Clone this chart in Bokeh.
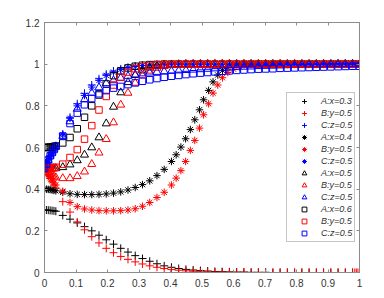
from bokeh.plotting import figure
from bokeh.models import (Range1d, FixedTicker, LinearAxis, Legend, LegendItem,
                          CustomJSTickFormatter, CustomLabelingPolicy)
from bokeh.embed import file_html
from bokeh.resources import INLINE

# ---------------- data ----------------
X_TICKS = [0, 0.1, 0.2, 0.3, 0.4, 0.5, 0.6, 0.7, 0.8, 0.9, 1]
Y_TICKS = [0, 0.2, 0.4, 0.6, 0.8, 1.0, 1.2]

T_DENSE = [0.0, 0.006, 0.012, 0.018, 0.024, 0.030, 0.036]
T_MAIN = [0.058, 0.081, 0.104, 0.127, 0.150, 0.173, 0.196, 0.219, 0.242, 0.265,
          0.288, 0.311, 0.334, 0.357, 0.380, 0.403, 0.426, 0.449, 0.472, 0.495,
          0.518, 0.541, 0.564, 0.587, 0.610, 0.633, 0.656, 0.679, 0.702, 0.725,
          0.748, 0.771, 0.794, 0.817, 0.840, 0.863, 0.886, 0.909, 0.932, 0.955,
          0.978, 1.0]
T_STAR = [0.058, 0.081, 0.104, 0.127, 0.150, 0.173, 0.196, 0.219, 0.242, 0.265,
          0.288, 0.311, 0.334, 0.357, 0.380, 0.403, 0.418, 0.433, 0.448, 0.463,
          0.477, 0.492, 0.505, 0.521, 0.535, 0.550, 0.565, 0.582, 0.600, 0.620,
          0.643, 0.666, 0.689, 0.712, 0.735, 0.758, 0.781, 0.804, 0.827, 0.850,
          0.873, 0.896, 0.919, 0.942, 0.965, 0.988, 1.0]
T_END = [0.985, 0.990, 0.995]

A_PLUS = [0.300, 0.300, 0.299, 0.298, 0.297, 0.296, 0.294,
          0.274, 0.256, 0.238, 0.220, 0.200, 0.179, 0.157, 0.136, 0.116, 0.098,
          0.081, 0.067, 0.054, 0.042, 0.032, 0.025, 0.019, 0.015, 0.012, 0.009,
          0.007, 0.005, 0.004, 0.003, 0.002, 0.002, 0.001, 0.001, 0.001, 0.000,
          0.000, 0.000, 0.000, 0.000, 0.000, 0.000, 0.000, 0.000, 0.000, 0.000,
          0.000, 0.000]
B_PLUS = [0.500, 0.483, 0.467, 0.451, 0.435, 0.420, 0.405,
          0.340, 0.290, 0.243, 0.205, 0.172, 0.142, 0.116, 0.095, 0.077, 0.063,
          0.051, 0.041, 0.032, 0.025, 0.019, 0.014, 0.011, 0.008, 0.006, 0.004,
          0.003, 0.002, 0.002, 0.001, 0.001, 0.001, 0.000, 0.000, 0.000, 0.000,
          0.000, 0.000, 0.000, 0.000, 0.000, 0.000, 0.000, 0.000, 0.000, 0.000,
          0.000, 0.000,
          0.000, 0.000, 0.000]
C_PLUS = [0.500, 0.520, 0.540, 0.560, 0.575, 0.590, 0.605,
          0.665, 0.745, 0.810, 0.860, 0.900, 0.930, 0.952, 0.967, 0.977, 0.985,
          0.990, 0.994, 0.996, 0.998, 1.000, 1.000, 1.000, 1.000, 1.000, 1.000,
          1.000, 1.000, 1.000, 1.000, 1.000, 1.000, 1.000, 1.000, 1.000, 1.000,
          1.000, 1.000, 1.000, 1.000, 1.000, 1.000, 1.000, 1.000, 1.000, 1.000,
          1.000, 1.000]

A_STAR = [0.400, 0.400, 0.399, 0.398, 0.396, 0.394, 0.392,
          0.385, 0.378, 0.375, 0.374, 0.374, 0.375, 0.377, 0.381, 0.387, 0.396,
          0.408, 0.422, 0.440, 0.465, 0.495, 0.533, 0.565, 0.602, 0.642, 0.686,
          0.733, 0.781, 0.829, 0.874, 0.915, 0.948, 0.970, 0.984, 0.992, 0.996,
          0.998, 0.999, 1.000, 1.000, 1.000, 1.000, 1.000, 1.000, 1.000, 1.000,
          1.000, 1.000, 1.000, 1.000, 1.000, 1.000, 1.000]
B_STAR = [0.500, 0.485, 0.470, 0.455, 0.440, 0.430, 0.420,
          0.390, 0.336, 0.316, 0.305, 0.300, 0.297, 0.296, 0.296, 0.297, 0.300,
          0.306, 0.318, 0.336, 0.360, 0.385, 0.420, 0.453, 0.489, 0.533, 0.586,
          0.634, 0.693, 0.757, 0.810, 0.861, 0.900, 0.935, 0.960, 0.976, 0.987,
          0.993, 0.997, 0.999, 1.000, 1.000, 1.000, 1.000, 1.000, 1.000, 1.000,
          1.000, 1.000, 1.000, 1.000, 1.000, 1.000, 1.000]
C_STAR = [0.500, 0.520, 0.540, 0.560, 0.575, 0.590, 0.605,
          0.660, 0.740, 0.800, 0.850, 0.890, 0.922, 0.946, 0.962, 0.974, 0.983,
          0.989, 0.993, 0.996, 0.998, 0.999, 1.000, 1.000, 1.000, 1.000, 1.000,
          1.000, 1.000, 1.000, 1.000, 1.000, 1.000, 1.000, 1.000, 1.000, 1.000,
          1.000, 1.000, 1.000, 1.000, 1.000, 1.000, 1.000, 1.000, 1.000, 1.000,
          1.000, 1.000]

A_TRI = [0.500, 0.500, 0.500, 0.500, 0.500, 0.500, 0.500,
         0.505, 0.518, 0.538, 0.565, 0.600, 0.648, 0.715, 0.795, 0.864, 0.913,
         0.947, 0.969, 0.983, 0.991, 0.995, 0.998, 0.999, 1.000, 1.000, 1.000,
         1.000, 1.000, 1.000, 1.000, 1.000, 1.000, 1.000, 1.000, 1.000, 1.000,
         1.000, 1.000, 1.000, 1.000, 1.000, 1.000, 1.000, 1.000, 1.000, 1.000,
         1.000, 1.000]
B_TRI = [0.500, 0.490, 0.480, 0.472, 0.465, 0.460, 0.456,
         0.452, 0.452, 0.462, 0.484, 0.520, 0.575, 0.640, 0.720, 0.805, 0.862,
         0.910, 0.945, 0.968, 0.982, 0.990, 0.995, 0.998, 0.999, 1.000, 1.000,
         1.000, 1.000, 1.000, 1.000, 1.000, 1.000, 1.000, 1.000, 1.000, 1.000,
         1.000, 1.000, 1.000, 1.000, 1.000, 1.000, 1.000, 1.000, 1.000, 1.000,
         1.000, 1.000]
C_TRI = [0.500, 0.520, 0.540, 0.560, 0.575, 0.590, 0.605,
         0.655, 0.725, 0.785, 0.830, 0.862, 0.888, 0.908, 0.922, 0.934, 0.943,
         0.950, 0.955, 0.959, 0.962, 0.965, 0.967, 0.969, 0.971, 0.973, 0.975,
         0.977, 0.979, 0.981, 0.983, 0.985, 0.987, 0.988, 0.990, 0.991, 0.992,
         0.993, 0.994, 0.995, 0.996, 0.997, 0.997, 0.998, 0.998, 0.999, 0.999,
         1.000, 1.000]

A_SQ = [0.600, 0.600, 0.601, 0.602, 0.603, 0.605, 0.607,
        0.622, 0.648, 0.690, 0.745, 0.800, 0.852, 0.905, 0.945, 0.968, 0.982,
        0.990, 0.995, 0.998, 0.999, 1.000, 1.000, 1.000, 1.000, 1.000, 1.000,
        1.000, 1.000, 1.000, 1.000, 1.000, 1.000, 1.000, 1.000, 1.000, 1.000,
        1.000, 1.000, 1.000, 1.000, 1.000, 1.000, 1.000, 1.000, 1.000, 1.000,
        1.000, 1.000]
B_SQ = [0.500, 0.500, 0.500, 0.501, 0.502, 0.503, 0.505,
        0.520, 0.552, 0.590, 0.640, 0.705, 0.780, 0.845, 0.900, 0.937, 0.962,
        0.978, 0.988, 0.994, 0.997, 0.999, 1.000, 1.000, 1.000, 1.000, 1.000,
        1.000, 1.000, 1.000, 1.000, 1.000, 1.000, 1.000, 1.000, 1.000, 1.000,
        1.000, 1.000, 1.000, 1.000, 1.000, 1.000, 1.000, 1.000, 1.000, 1.000,
        1.000, 1.000]
C_SQ = [0.500, 0.520, 0.540, 0.560, 0.575, 0.590, 0.605,
        0.655, 0.715, 0.765, 0.805, 0.835, 0.858, 0.873, 0.885, 0.893, 0.902,
        0.910, 0.918, 0.925, 0.931, 0.937, 0.942, 0.946, 0.950, 0.954, 0.957,
        0.960, 0.963, 0.966, 0.968, 0.970, 0.972, 0.974, 0.976, 0.977, 0.978,
        0.980, 0.981, 0.982, 0.983, 0.984, 0.985, 0.986, 0.987, 0.988, 0.989,
        0.990, 0.990]

LABELS = ["A:x=0.3", "B:y=0.5", "C:z=0.5",
          "A:x=0.4", "B:y=0.5", "C:z=0.5",
          "A:x=0.5", "B:y=0.5", "C:z=0.5",
          "A:x=0.6", "B:y=0.5", "C:z=0.5"]

# ---------------- figure ----------------
FONT = "Liberation Sans"
GRAY = "#8c8c8c"
TXT = "#333333"

p = figure(width=376, height=290, x_range=Range1d(0, 1), y_range=Range1d(0, 1.2),
           output_backend="svg", toolbar_location=None,
           min_border_left=44, min_border_right=17, min_border_top=22,
           min_border_bottom=18)
p.background_fill_color = "white"
p.border_fill_color = "white"
p.outline_line_color = GRAY
p.grid.visible = False

fmt = CustomJSTickFormatter(code="return String(Math.round(tick*10)/10);")
no_labels = CustomLabelingPolicy(
    code="for (const i of indices) { indices.unset(i) }\nreturn indices")


def style_axis(ax, ticks, show_labels=True, standoff=5):
    ax.ticker = FixedTicker(ticks=ticks)
    ax.formatter = fmt
    ax.axis_line_color = GRAY
    ax.major_tick_line_color = GRAY
    ax.major_tick_in = 3
    ax.major_tick_out = 0
    ax.minor_tick_line_color = None
    ax.major_label_text_font = FONT
    ax.major_label_text_color = TXT
    ax.major_label_text_font_size = "10px"
    if show_labels:
        ax.major_label_standoff = standoff
    else:
        ax.major_label_policy = no_labels
        ax.major_label_standoff = 0


style_axis(p.xaxis[0], X_TICKS, True, 6)
style_axis(p.yaxis[0], Y_TICKS, True, 5)
top = LinearAxis()
style_axis(top, X_TICKS, False)
right = LinearAxis()
style_axis(right, Y_TICKS, False)
p.add_layout(top, "above")
p.add_layout(right, "right")

BLACK, RED, BLUE = "#000000", "#ff0000", "#0000ff"
T_STD = T_DENSE + T_MAIN
series = [
    (T_STD, A_PLUS, "cross", BLACK, 8),
    (T_STD + T_END, B_PLUS, "cross", RED, 8),
    (T_STD, C_PLUS, "cross", BLUE, 8),
    (T_DENSE + T_STAR, A_STAR, "asterisk", BLACK, 7.5),
    (T_DENSE + T_STAR, B_STAR, "asterisk", RED, 7.5),
    (T_STD, C_STAR, "asterisk", BLUE, 7.5),
    (T_STD, A_TRI, "triangle", BLACK, 8),
    (T_STD, B_TRI, "triangle", RED, 8),
    (T_STD, C_TRI, "triangle", BLUE, 8),
    (T_STD, A_SQ, "square", BLACK, 6.5),
    (T_STD, B_SQ, "square", RED, 6.5),
    (T_STD, C_SQ, "square", BLUE, 6.5),
]

items = []
for (xs, ys, mk, col, sz), lab in zip(series, LABELS):
    r = p.scatter(xs, ys, marker=mk, size=sz, line_color=col, fill_color=None,
                  line_width=1)
    items.append(LegendItem(label=lab, renderers=[r]))

legend = Legend(items=items, location=(242, 30))
legend.border_line_color = GRAY
legend.border_line_width = 1
legend.background_fill_color = "white"
legend.background_fill_alpha = 1
legend.label_text_font = FONT
legend.label_text_font_style = "italic"
legend.label_text_font_size = "9px"
legend.label_text_color = TXT
legend.glyph_width = 30
legend.glyph_height = 12
legend.label_height = 12
legend.label_standoff = 2
legend.spacing = 0
legend.padding = 2
legend.margin = 0
p.add_layout(legend)

open("out.html", "w").write(file_html(p, INLINE))
